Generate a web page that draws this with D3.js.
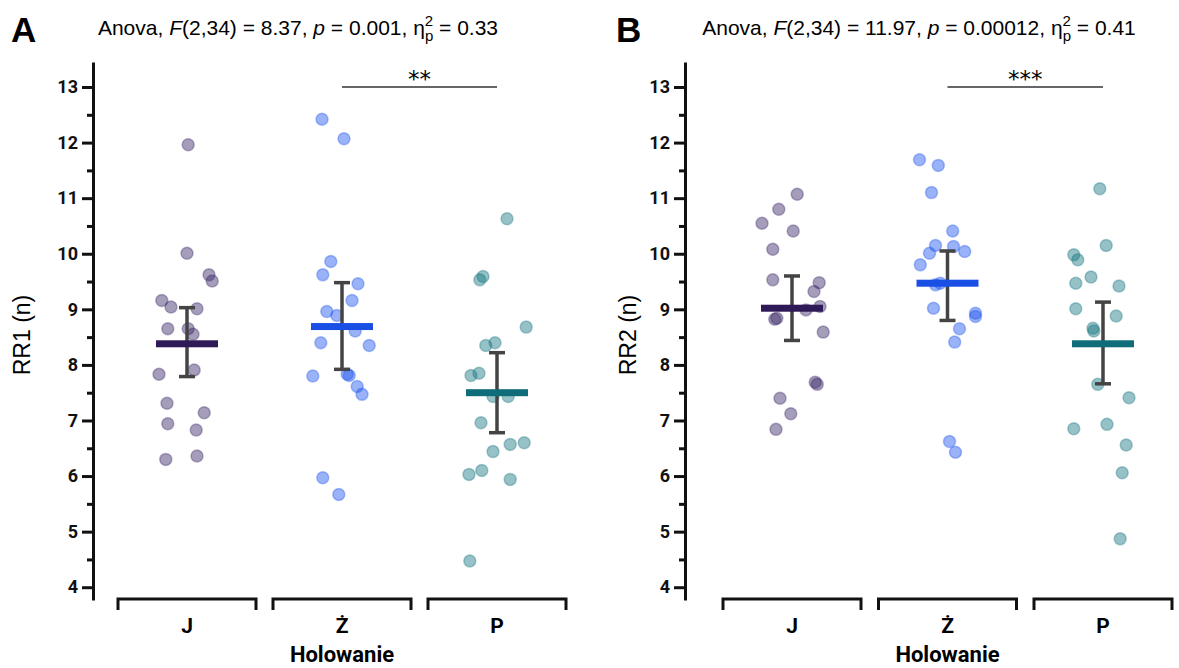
<!DOCTYPE html>
<html lang="pl">
<head>
    <meta charset="UTF-8">
    <title>RR1 / RR2 holowanie</title>
    <script src="https://d3js.org/d3.v7.min.js"></script>
    <style>
        body {
            margin: 0;
            background: white;
        }
        svg {
            display: block;
        }
        .title {
            font-family: "Liberation Sans", Arial, sans-serif;
            font-size: 21px;
        }
        .panel-letter {
            font-family: "Liberation Sans", Arial, sans-serif;
            font-size: 35px;
            font-weight: bold;
        }
        .axis text {
            font-family: Roboto, "Liberation Sans", sans-serif;
            font-size: 18px;
            font-weight: bold;
            fill: #111;
        }
        .axis path, .axis line {
            stroke: #111;
            stroke-width: 3;
        }
        .ylabel {
            font-family: "Liberation Sans", Arial, sans-serif;
            font-size: 23px;
        }
        .xlabel {
            font-family: Roboto, "Liberation Sans", sans-serif;
            font-size: 21px;
            font-weight: bold;
        }
        .xtitle {
            font-family: Roboto, "Liberation Sans", sans-serif;
            font-size: 22px;
            font-weight: bold;
        }
        .stars {
            font-family: "DejaVu Sans", sans-serif;
            font-size: 23px;
        }
    </style>
</head>
<body>
    <div id="chart"></div>
    <script>
        // data

        const categories = ['J', 'Ż', 'P']
        const colors = ['#3a2566', '#1f55ee', '#167580']
        const meanColors = ['#2e1a56', '#1a4fe6', '#0e6d78']

        // RR1 values and jitter (jitter in -1..1 units)
        const rr1J = [11.96, 10.01, 9.62, 9.51, 9.16, 9.04, 9.01, 8.65, 8.65, 8.55, 7.83, 7.91, 7.31, 7.14, 6.94, 6.83, 6.30, 6.36]
        const rr1JJit = [0.03, 0, 0.55, 0.63, -0.63, -0.4, 0.25, -0.48, 0.03, 0.15, -0.7, 0.18, -0.5, 0.43, -0.48, 0.23, -0.53, 0.25]
        const rr1Z = [12.42, 12.07, 9.86, 9.62, 9.46, 9.16, 8.96, 8.89, 8.61, 8.40, 8.35, 7.83, 7.81, 7.61, 7.47, 7.80, 5.97, 5.67]
        const rr1ZJit = [-0.5, 0.05, -0.28, -0.48, 0.4, 0.25, -0.38, -0.13, 0.33, -0.53, 0.68, 0.13, 0.18, 0.38, 0.5, -0.73, -0.48, -0.08]
        const rr1P = [10.63, 9.59, 9.53, 8.68, 8.40, 8.35, 7.81, 7.85, 7.43, 7.43, 6.96, 6.57, 6.60, 6.44, 6.03, 6.10, 5.94, 4.47]
        const rr1PJit = [0.25, -0.35, -0.43, 0.73, -0.05, -0.28, -0.65, -0.45, -0.1, 0.28, -0.4, 0.33, 0.68, -0.1, -0.7, -0.38, 0.33, -0.68]
        const rr1Mean = [8.38, 8.69, 7.50]
        const rr1Low = [7.79, 7.92, 6.78]
        const rr1High = [9.03, 9.48, 8.22]

        // RR2
        const rr2J = [11.07, 10.80, 10.55, 10.41, 10.08, 9.53, 9.48, 9.32, 9.05, 8.99, 8.84, 8.82, 8.59, 7.69, 7.65, 7.40, 7.12, 6.84]
        const rr2JJit = [0.13, -0.33, -0.75, 0.03, -0.48, -0.48, 0.68, 0.55, 0.7, 0.35, -0.38, -0.43, 0.78, 0.58, 0.63, -0.3, -0.03, -0.4]
        const rr2Z = [11.69, 11.59, 11.10, 10.41, 10.15, 10.13, 10.01, 10.04, 9.80, 9.44, 9.47, 9.02, 8.93, 8.87, 8.65, 8.41, 6.62, 6.43]
        const rr2ZJit = [-0.7, -0.23, -0.4, 0.13, -0.3, 0.15, -0.45, 0.43, -0.68, -0.3, -0.18, -0.35, 0.7, 0.7, 0.3, 0.18, 0.05, 0.2]
        const rr2P = [11.17, 10.15, 9.98, 9.89, 9.58, 9.47, 9.42, 9.01, 8.88, 8.66, 8.61, 7.65, 7.41, 6.85, 6.93, 6.56, 6.06, 4.87]
        const rr2PJit = [-0.08, 0.08, -0.73, -0.63, -0.3, -0.68, 0.4, -0.68, 0.33, -0.25, -0.23, -0.13, 0.65, -0.73, 0.1, 0.58, 0.48, 0.43]
        const rr2Mean = [9.02, 9.47, 8.38]
        const rr2Low = [8.44, 8.80, 7.66]
        const rr2High = [9.60, 10.05, 9.13]

        const yTicks = [4, 5, 6, 7, 8, 9, 10, 11, 12, 13]
        const yMinor = [4.5, 5.5, 6.5, 7.5, 8.5, 9.5, 10.5, 11.5, 12.5]

        // layout

        const WIDTH = 1179
        const HEIGHT = 668

        const svg = d3.select('#chart')
            .append('svg')
            .attr('width', WIDTH)
            .attr('height', HEIGHT)

        const panels = [
            {
                letter: 'A', letterX: 11, axisX: 93, xRange: [187, 497], titleX: 298,
                title: ['8.37', '0.001', '0.33'], ylabel: 'RR1 (n)', ylabelX: 30,
                groups: [[rr1J, rr1JJit], [rr1Z, rr1ZJit], [rr1P, rr1PJit]],
                mean: rr1Mean, low: rr1Low, high: rr1High, stars: '**'
            },
            {
                letter: 'B', letterX: 616, axisX: 685, xRange: [792, 1103], titleX: 919,
                title: ['11.97', '0.00012', '0.41'], ylabel: 'RR2 (n)', ylabelX: 636,
                groups: [[rr2J, rr2JJit], [rr2Z, rr2ZJit], [rr2P, rr2PJit]],
                mean: rr2Mean, low: rr2Low, high: rr2High, stars: '***'
            }
        ]

        const y = d3.scaleLinear().domain([3.77, 13.45]).range([600, 62])
        const jitter = d3.scaleLinear().domain([-1, 1]).range([-40, 40])
        const HALF = 69 // half bracket width

        panels.forEach(p => {
            const x = d3.scalePoint().domain(categories).range(p.xRange)
            const g = svg.append('g')

            // letter + title
            g.append('text').attr('class', 'panel-letter')
                .attr('x', p.letterX).attr('y', 42).text(p.letter)

            const t = g.append('text').attr('class', 'title')
                .attr('x', p.titleX).attr('y', 35).attr('text-anchor', 'middle')
            t.append('tspan').text('Anova, ')
            t.append('tspan').attr('font-style', 'italic').text('F')
            t.append('tspan').text(`(2,34) = ${p.title[0]}, `)
            t.append('tspan').attr('font-style', 'italic').text('p')
            t.append('tspan').text(` = ${p.title[1]}, η`)
            t.append('tspan').attr('font-size', 15).attr('dy', -9).text('2')
            t.append('tspan').attr('font-size', 15).attr('dx', -8.3).attr('dy', 15).text('p')
            t.append('tspan').attr('dy', -6).text(` = ${p.title[2]}`)

            // y axis
            const yAxis = g.append('g').attr('class', 'axis')
                .attr('transform', `translate(${p.axisX},0)`)
                .call(d3.axisLeft(y).tickValues(yTicks).tickSize(11).tickSizeOuter(0).tickPadding(4))
            yAxis.attr('font-family', null).attr('font-size', null)

            g.append('g').attr('class', 'axis')
                .attr('transform', `translate(${p.axisX},0)`)
                .call(d3.axisLeft(y).tickValues(yMinor).tickSize(6).tickFormat(''))
                .select('.domain').remove()

            g.append('text').attr('class', 'ylabel')
                .attr('transform', `translate(${p.ylabelX},${335}) rotate(-90)`)
                .attr('text-anchor', 'middle')
                .text(p.ylabel)

            // x brackets
            const xAxis = g.append('g')
            categories.forEach(c => {
                const cx = x(c)
                xAxis.append('path')
                    .attr('d', `M${cx - HALF},610V599H${cx + HALF}V610`)
                    .attr('fill', 'none').attr('stroke', '#111').attr('stroke-width', 3)
                xAxis.append('text').attr('class', 'xlabel')
                    .attr('x', cx).attr('y', 633).attr('text-anchor', 'middle')
                    .text(c)
            })
            g.append('text').attr('class', 'xtitle')
                .attr('x', x('Ż')).attr('y', 662).attr('text-anchor', 'middle')
                .text('Holowanie')

            // points
            p.groups.forEach(([vals, jit], i) => {
                const c = categories[i]
                g.append('g').selectAll('circle')
                    .data(vals).enter()
                    .append('circle')
                    .attr('cx', (d, k) => x(c) + jitter(jit[k]))
                    .attr('cy', d => y(d))
                    .attr('r', 6)
                    .attr('fill', colors[i]).attr('fill-opacity', 0.45)
                    .attr('stroke', colors[i]).attr('stroke-opacity', 0.35).attr('stroke-width', 1.5)
            })

            // error bars
            const err = g.append('g').attr('stroke', '#444').attr('stroke-width', 3.5)
            categories.forEach((c, i) => {
                err.append('line').attr('x1', x(c)).attr('x2', x(c))
                    .attr('y1', y(p.low[i])).attr('y2', y(p.high[i]))
                err.append('line').attr('x1', x(c) - 8).attr('x2', x(c) + 8)
                    .attr('y1', y(p.low[i])).attr('y2', y(p.low[i]))
                err.append('line').attr('x1', x(c) - 8).attr('x2', x(c) + 8)
                    .attr('y1', y(p.high[i])).attr('y2', y(p.high[i]))
            })

            // means
            g.append('g').selectAll('rect')
                .data(p.mean).enter()
                .append('rect')
                .attr('x', (d, i) => x(categories[i]) - 31)
                .attr('y', d => y(d) - 3.5)
                .attr('width', 62).attr('height', 7)
                .attr('fill', (d, i) => meanColors[i])

            // significance
            g.append('line')
                .attr('x1', x('Ż')).attr('x2', x('P'))
                .attr('y1', y(13)).attr('y2', y(13))
                .attr('stroke', '#333').attr('stroke-width', 1.5)
            g.append('text').attr('class', 'stars')
                .attr('x', (x('Ż') + x('P')) / 2).attr('y', 87)
                .attr('text-anchor', 'middle')
                .text(p.stars)
        })
    </script>
</body>
</html>
